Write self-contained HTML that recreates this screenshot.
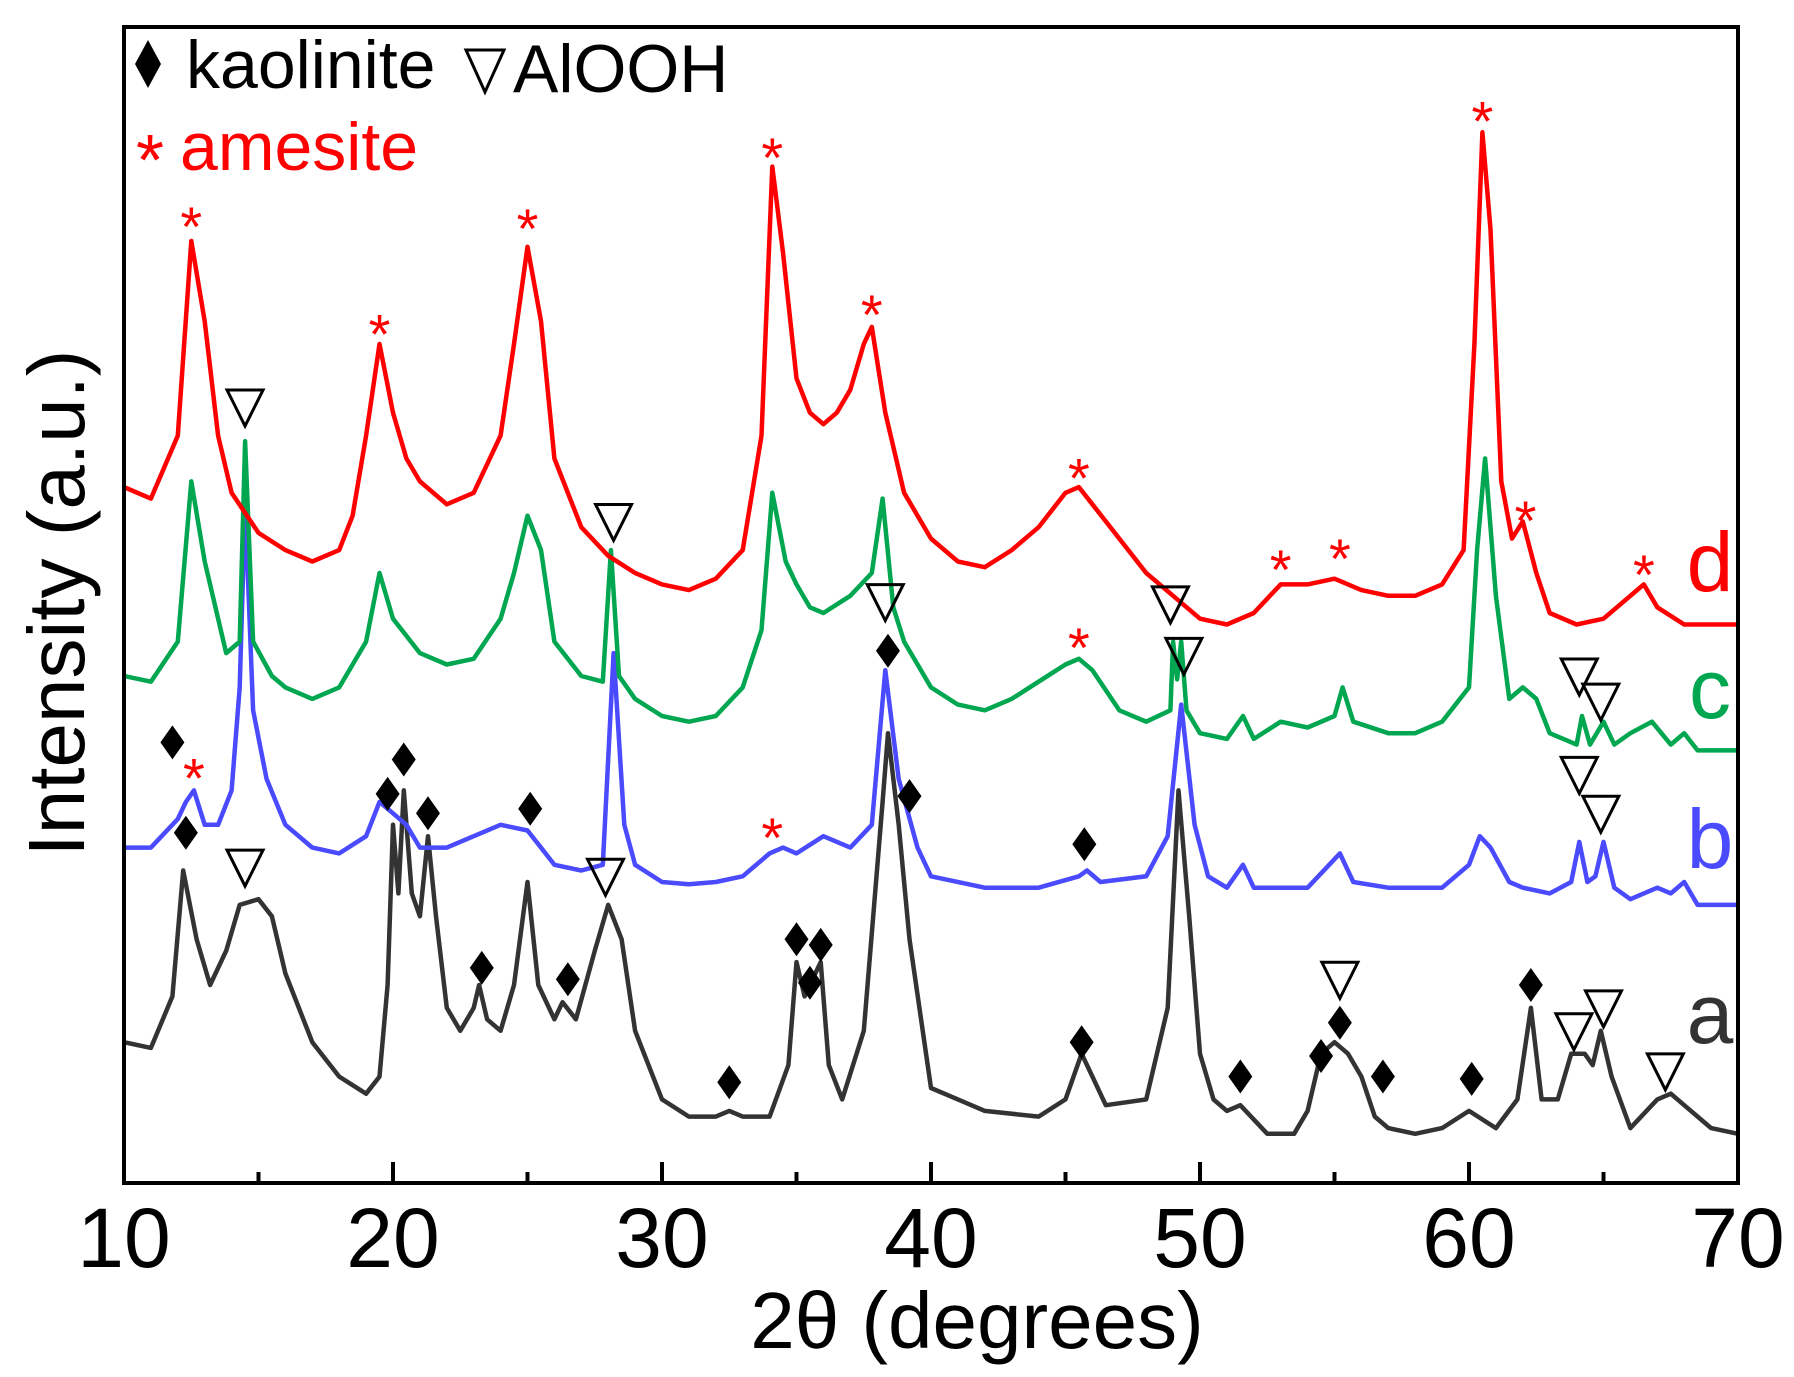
<!DOCTYPE html>
<html><head><meta charset="utf-8"><style>
html,body{margin:0;padding:0;background:#fff;}
svg{display:block;font-family:"Liberation Sans",sans-serif;}
</style></head><body>
<svg id="chart" width="1794" height="1377" viewBox="0 0 1794 1377">
<g id="plot"></g>
<rect x="124" y="27" width="1614" height="1156" fill="none" stroke="#000" stroke-width="4"/>
<g id="axes"></g>
<text x="977" y="1348" font-size="80" text-anchor="middle">2θ (degrees)</text>
<text transform="translate(84,603) rotate(-90)" font-size="80" text-anchor="middle">Intensity (a.u.)</text>
<g>
<polygon points="148,40 161,64 148,88 135,64" fill="#000"/>
<text x="186" y="88" font-size="68">kaolinite</text>
<polygon points="466,50 504,50 485,92" fill="none" stroke="#000" stroke-width="3"/>
<text x="513" y="92" font-size="68">AlOOH</text>
<text x="150" y="185" font-size="72" fill="#ff0000" text-anchor="middle">*</text>
<text x="180" y="170" font-size="68" fill="#ff0000">amesite</text>
</g>
</svg>
<script>
const ticks=[10,20,30,40,50,60,70];
const minorTicks=[15,25,35,45,55,65];
const xD=[10,11,12,12.5,13,13.5,14,15,16,17,18,18.5,19,19.5,20,20.5,21,22,23,24,24.5,25,25.5,26,27,28,29,30,31,32,33,33.7,34.1,34.5,35,35.5,36,36.5,37,37.5,37.8,38.3,39,40,41,42,43,44,45,45.5,46,47,48,49,50,51,52,53,54,55,56,57,58,59,59.8,60.2,60.5,60.8,61.2,61.6,62,62.5,63,64,65,66,66.5,67,68,70];
const yD=[608,598,653,823,753,653,603,568,553,543,553,583,653,733,673,633,613,593,603,653,733,818,753,633,573,548,533,523,518,528,553,653,888,813,703,673,663,673,693,733,748,673,603,563,543,538,553,573,603,608,593,563,533,513,493,488,498,523,523,528,518,513,513,523,553,733,918,833,613,563,578,533,498,488,493,513,523,503,488,488];
const xC=[10,11,12,12.5,13,13.8,14.3,14.5,14.8,15.5,16,17,18,19,19.5,20,21,22,23,24,24.5,25,25.5,26,27,27.8,28.1,28.4,29,30,31,32,33,33.7,34.1,34.6,35,35.5,36,37,37.8,38.2,38.6,39,40,41,42,43,44,45,45.5,46,47,48,48.9,49.0,49.15,49.3,49.5,50,51,51.6,52,53,54,55,55.3,55.7,57,58,59,60,60.3,60.6,61,61.5,62,62.5,63,64,64.2,64.5,65,65.4,66,66.8,67.5,68,68.5,70];
const yC=[443,438,473,613,543,463,473,648,473,443,433,423,433,473,533,493,463,453,458,493,533,583,553,473,443,438,553,443,423,408,403,408,433,483,603,543,523,503,498,513,533,598,503,473,433,418,413,423,438,453,458,448,413,403,413,473,440,473,413,393,388,408,388,403,398,408,433,403,393,393,403,433,553,633,513,423,433,423,393,383,408,383,403,383,393,403,383,393,378,378];
const xB=[10,11,12,12.3,12.6,13,13.5,14,14.3,14.5,14.8,15.3,16,17,18,19,19.5,20,20.5,21,22,23,24,25,25.5,26,27,27.8,28.2,28.6,29,30,31,32,33,34,34.5,35,36,37,37.8,38.3,38.8,39.5,40,42,44,45.5,45.8,46.3,48,48.8,49.3,49.8,50.3,51,51.6,52,54,55.2,55.7,57,59,60,60.4,60.8,61.5,62,63,63.8,64.1,64.4,64.7,65,65.4,66,67,67.5,68,68.5,70];
const yB=[293,293,318,333,343,313,313,343,433,593,413,353,313,293,288,303,333,323,313,293,293,303,313,308,293,278,273,278,463,313,278,263,261,263,268,288,293,288,303,293,313,448,353,293,268,258,258,268,273,263,268,303,418,313,268,258,278,258,258,288,263,258,258,278,303,293,263,258,253,263,298,263,268,298,258,248,258,253,263,243,243];
const xA=[10,11,11.8,12.2,12.7,13.2,13.8,14.3,15,15.5,16,17,18,19,19.5,19.8,20,20.2,20.4,20.7,21,21.3,21.6,22,22.5,23,23.2,23.5,24,24.5,25,25.4,26,26.3,26.8,27.5,28,28.5,29,30,31,32,32.5,33,34,34.7,35,35.3,35.5,35.9,36.2,36.7,37.5,38.2,38.4,38.8,39.2,40,41,42,44,45,45.6,46,46.5,48,48.8,49.2,49.6,50,50.5,51,51.5,52.5,53.5,54,54.5,55,55.5,56,56.5,57,58,59,60,61,61.8,62.3,62.7,63.3,63.8,64.3,64.6,64.9,65.3,66,67,67.5,68,69,70];
const yA=[123,118,163,273,213,173,203,243,248,233,183,123,93,78,93,173,313,253,343,253,233,303,233,153,133,153,173,143,133,173,263,173,143,158,143,203,243,213,133,73,58,58,63,58,58,103,193,163,173,193,103,73,133,333,393,313,213,83,73,63,58,73,113,93,68,73,153,343,233,113,73,63,68,43,43,63,113,123,113,93,58,48,43,48,63,48,73,153,73,73,113,113,103,133,93,48,73,78,68,48,43];
const starX=[12.5,19.5,25,34.1,37.8,45.5,53,55.2,60.5,62.1,66.5,45.5,12.6,34.1];
const starY=[845,751,843,905,768,625,545,555,937,588,541,477,363,311];
const triX=[14.5,28.2,38.3,48.9,49.4,64.1,64.9,64.1,64.9,14.5,27.9,55.2,63.9,65.0,67.3];
const triY=[678,578,508,506,461,443,421,357,323,276,268,178,133,153,98];
const diaX=[11.8,12.3,19.8,20.4,21.3,25.1,38.4,39.2,45.7,23.3,26.5,32.5,35.0,35.5,35.9,45.6,51.5,54.5,55.2,56.8,60.1,62.3];
const diaY=[385,306,340,370,323,327,465,338,296,188,178,88,213,175,208,123,93,111,140,93,91,173];
const NS="http://www.w3.org/2000/svg";
const X=v=>124+(v-10)*(1614/60);
const Y=v=>1183-v*(1156/1010);
const plot=document.getElementById('plot'),axes=document.getElementById('axes');
function mk(t,a,p){const e=document.createElementNS(NS,t);for(const k in a)e.setAttribute(k,a[k]);p.appendChild(e);return e;}
ticks.forEach(t=>{
 const l=mk('line',{x1:X(t),x2:X(t),y1:1183,y2:1162,stroke:'#000','stroke-width':4},axes);
 
 
 const tx=mk('text',{x:X(t),y:1267,'font-size':84,'text-anchor':'middle'},axes);
 tx.textContent=t;
 
 
});
minorTicks.forEach(t=>{
 const l=mk('line',{x1:X(t),x2:X(t),y1:1183,y2:1172,stroke:'#000','stroke-width':4},axes);
 
 
});
const series=[[xA,yA,'#333333','curve-a'],[xB,yB,'#4a4aff','curve-b'],[xC,yC,'#00a650','curve-c'],[xD,yD,'#ff0000','curve-d']];
series.forEach(s=>{
 const d=s[0].map((v,i)=>(i?'L':'M')+X(v).toFixed(1)+','+Y(s[1][i]).toFixed(1)).join('');
 const p=mk('path',{d:d,fill:'none',stroke:s[2],'stroke-width':4.5,'stroke-linejoin':'round'},plot);
 
 
});
starX.forEach((v,i)=>{
 const t=mk('text',{x:X(v),y:Y(starY[i])+30,'font-size':56,fill:'#ff0000','text-anchor':'middle'},plot);
 t.textContent='*';
 
 
});
triX.forEach((v,i)=>{
 const cx=X(v),cy=Y(triY[i]);
 const t=mk('polygon',{points:`${cx-18},${cy-17} ${cx+18},${cy-17} ${cx},${cy+19}`,fill:'#fff','fill-opacity':0,stroke:'#000','stroke-width':3},plot);
 
 
});
diaX.forEach((v,i)=>{
 const cx=X(v),cy=Y(diaY[i]);
 const t=mk('polygon',{points:`${cx},${cy-17} ${cx+12},${cy} ${cx},${cy+17} ${cx-12},${cy}`,fill:'#000'},plot);
 
 
});
const labels=[['d','#ff0000',591],['c','#00a650',718],['b','#4a4aff',868],['a','#333333',1043]];
labels.forEach(l=>{
 const t=mk('text',{x:1710,y:l[2],'font-size':84,fill:l[1],'text-anchor':'middle'},plot);
 t.textContent=l[0];
 
 
});
</script>
</body></html>
